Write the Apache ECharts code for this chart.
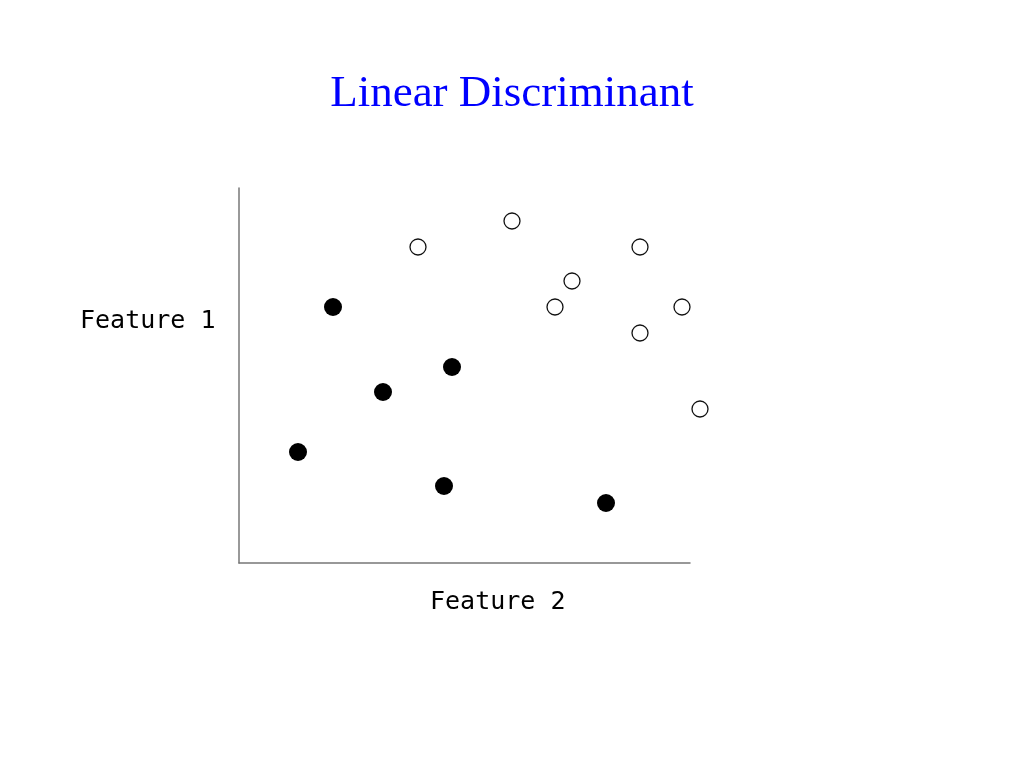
<!DOCTYPE html>
<html>
<head>
<meta charset="utf-8">
<script src="https://cdn.jsdelivr.net/npm/echarts@6/dist/echarts.min.js"></script>
<style>html,body{margin:0;padding:0;background:#fff;}#c{width:1024px;height:768px;}</style>
</head>
<body>
<div id="c"></div>
<script>
// Values (axis units = offset from origin)
const titleText = "Linear Discriminant";
const xLabel = "Feature 2";
const yLabel = "Feature 1";
const classA = [ // filled
  [94, 256], [213, 196], [144, 171], [59, 111], [205, 77], [367, 60]
];
const classB = [ // open
  [273, 342], [179, 316], [401, 316], [333, 282], [316, 256], [443, 256], [401, 230], [461, 154]
];

const chart = echarts.init(document.getElementById('c'));
chart.setOption({
  backgroundColor: '#fff',
  animation: false,
  title: {
    text: titleText, left: 'center', top: 67,
    textStyle: { fontFamily: 'Liberation Serif', fontWeight: 'normal', fontSize: 45, color: '#0000ff' }
  },
  grid: { left: 239, top: 188, width: 451, height: 375 },
  xAxis: {
    type: 'value', min: 0, max: 451,
    axisLine: { show: true, onZero: false, lineStyle: { color: '#777', width: 1.5 } },
    axisTick: { show: false }, axisLabel: { show: false }, splitLine: { show: false }
  },
  yAxis: {
    type: 'value', min: 0, max: 375,
    axisLine: { show: true, onZero: false, lineStyle: { color: '#777', width: 1.5 } },
    axisTick: { show: false }, axisLabel: { show: false }, splitLine: { show: false }
  },
  graphic: [
    { type: 'text', left: 80, top: 309, style: { text: yLabel, font: '25px "DejaVu Sans Mono"', fill: '#000' } },
    { type: 'text', left: 430, top: 590, style: { text: xLabel, font: '25px "DejaVu Sans Mono"', fill: '#000' } }
  ],
  series: [
    { type: 'scatter', data: classA, symbol: 'circle', symbolSize: 18, clip: false,
      itemStyle: { color: '#000', opacity: 1 } },
    { type: 'scatter', data: classB, symbol: 'circle', symbolSize: 16, clip: false,
      itemStyle: { color: '#fff', borderColor: '#111', borderWidth: 1.3, opacity: 1 } }
  ]
});
</script>
</body>
</html>
